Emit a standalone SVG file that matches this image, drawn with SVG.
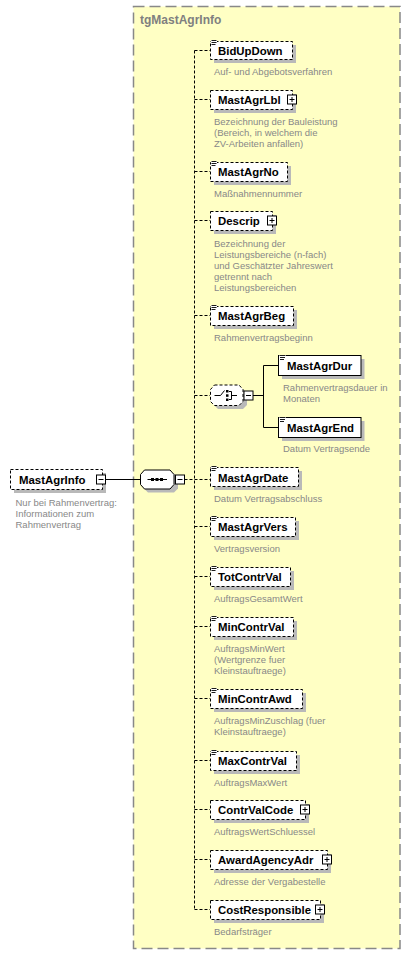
<svg xmlns="http://www.w3.org/2000/svg" width="411" height="956" viewBox="0 0 411 956">
<style>
.sh{fill:#b9b9b9}
.bx{fill:#fff;stroke:#000;stroke-width:1}
.opt{stroke-dasharray:3,2}
.lbl{font-family:"Liberation Sans",Arial,sans-serif;font-weight:bold;font-size:11.4px;fill:#000}
.dsc{font-family:"Liberation Sans",Arial,sans-serif;font-size:9.5px;fill:#888}
.ttl{font-family:"Liberation Sans",Arial,sans-serif;font-weight:bold;font-size:12px;fill:#808080}
.cn{stroke:#000;fill:none;stroke-width:1}
.dc{stroke-dasharray:3,2}
.btn{fill:#fff;stroke:#000;stroke-width:1}
.ic{stroke:#000;stroke-width:1;fill:none}
</style>
<defs>
<g id="plus"><rect class="btn" x="-4.5" y="-4.5" width="9" height="9"/><path class="ic" d="M-2.5,0H2.5M0,-2.5V2.5"/></g>
<g id="minus"><rect class="btn" x="-4.5" y="-4.5" width="9" height="9"/><path class="ic" d="M-2.5,0H2.5"/></g>
<g id="simp"><rect x="0.5" y="0" width="6" height="5.5" fill="#fff"/><path d="M1,0.5H6M1,2.5H6M1,4.5H5" stroke="#000" stroke-width="0.9" fill="none"/></g>
</defs>

<g id="group-tgMastAgrInfo">
<rect x="133.5" y="6.5" width="266.5" height="942" fill="#ffffc4" stroke="#888" stroke-width="1.5" stroke-dasharray="11,5"/>
<text class="ttl" x="140" y="24">tgMastAgrInfo</text>
</g>

<g id="connectors">
<path class="cn" d="M105.5,479.5H140"/>
<path class="cn dc" d="M184.5,479.5H210"/>
<path class="cn dc" d="M194.5,50.5V909.5"/>
<path class="cn dc" d="M194.5,50.5H210M194.5,99.5H210M194.5,171.5H210M194.5,220.5H210M194.5,315.5H210M194.5,395.5H210M194.5,526.5H210M194.5,576.5H210M194.5,626.5H210M194.5,698.5H210M194.5,760.5H210M194.5,809.5H210M194.5,859.5H210M194.5,909.5H210"/>
<path class="cn" d="M253,395.5H263.5M263.5,365.5V427.5M263.5,365.5H278.5M263.5,427.5H278.5"/>
</g>

<g id="MastAgrInfo">
<rect class="sh" x="14" y="473" width="92" height="20"/>
<rect class="bx opt" x="10.5" y="469.5" width="92" height="20"/>
<text class="lbl" x="19" y="484">MastAgrInfo</text>
<use href="#minus" x="101" y="479.5"/>
<text class="dsc" x="15.5" y="506">Nur bei Rahmenvertrag:</text>
<text class="dsc" x="15.5" y="517">Informationen zum</text>
<text class="dsc" x="15.5" y="528">Rahmenvertrag</text>
</g>

<g id="sequence">
<path class="sh" d="M148,473.5H174L178,477.5V488.5L174,492.5H148L144,488.5V477.5Z"/>
<path class="bx" d="M144.5,470H170L174,474.5V484.5L170,489H144.5L140.5,484.5V474.5Z"/>
<path class="ic" d="M147.5,479.5H167"/>
<rect x="151" y="478" width="3" height="3" fill="#000"/>
<rect x="155.5" y="478" width="3" height="3" fill="#000"/>
<rect x="160" y="478" width="3" height="3" fill="#000"/>
<use href="#minus" x="180" y="479.5"/>
</g>

<g id="BidUpDown">
<rect class="sh" x="214" y="45" width="82" height="18"/>
<rect class="bx opt" x="210.5" y="41.5" width="82" height="18"/>
<use href="#simp" x="210.5" y="40"/>
<text class="lbl" x="218" y="55">BidUpDown</text>
<text class="dsc" x="214" y="75">Auf- und Abgebotsverfahren</text>
</g>

<g id="MastAgrLbl">
<rect class="sh" x="214" y="94" width="82" height="19"/>
<rect class="bx opt" x="210.5" y="90.5" width="82" height="19"/>
<text class="lbl" x="218" y="104">MastAgrLbl</text>
<use href="#plus" x="292" y="99.5"/>
<text class="dsc" x="214" y="125">Bezeichnung der Bauleistung</text>
<text class="dsc" x="214" y="136">(Bereich, in welchem die</text>
<text class="dsc" x="214" y="147">ZV-Arbeiten anfallen)</text>
</g>

<g id="MastAgrNo">
<rect class="sh" x="214" y="166" width="77" height="19"/>
<rect class="bx opt" x="210.5" y="162.5" width="77" height="19"/>
<use href="#simp" x="210.5" y="161"/>
<text class="lbl" x="218" y="176">MastAgrNo</text>
<text class="dsc" x="214" y="197">Maßnahmennummer</text>
</g>

<g id="Descrip">
<rect class="sh" x="214" y="215" width="62" height="19"/>
<rect class="bx opt" x="210.5" y="211.5" width="62" height="19"/>
<text class="lbl" x="218" y="225">Descrip</text>
<use href="#plus" x="272" y="220.5"/>
<text class="dsc" x="214" y="247">Bezeichnung der</text>
<text class="dsc" x="214" y="258">Leistungsbereiche (n-fach)</text>
<text class="dsc" x="214" y="269">und Geschätzter Jahreswert</text>
<text class="dsc" x="214" y="280">getrennt nach</text>
<text class="dsc" x="214" y="291">Leistungsbereichen</text>
</g>

<g id="MastAgrBeg">
<rect class="sh" x="214" y="310" width="83" height="19"/>
<rect class="bx opt" x="210.5" y="306.5" width="83" height="19"/>
<use href="#simp" x="210.5" y="305"/>
<text class="lbl" x="218" y="320">MastAgrBeg</text>
<text class="dsc" x="214" y="341">Rahmenvertragsbeginn</text>
</g>

<g id="choice">
<path class="sh" d="M218,389H243L247,393V405L243,409H218L214,405V393Z"/>
<path class="bx opt" d="M214.5,385H239L243,389.5V401.5L239,405.5H214.5L210.5,401.5V389.5Z"/>
<path class="ic" d="M214.5,395.5H220.5L224.5,390.5"/>
<rect x="226" y="390" width="2.5" height="2.5" fill="#000"/>
<rect x="226" y="394.3" width="2.5" height="2.5" fill="#000"/>
<rect x="226" y="398.5" width="2.5" height="2.5" fill="#000"/>
<path class="ic" d="M229,391.5H231.5V399.5H229M231.5,395.5H237"/>
<use href="#minus" x="248.5" y="395.5"/>
</g>

<g id="MastAgrDur">
<rect class="sh" x="282" y="359" width="82.5" height="20"/>
<rect class="bx" x="278.5" y="355.5" width="82.5" height="20"/>
<use href="#simp" x="279" y="355"/>
<text class="lbl" x="287" y="370">MastAgrDur</text>
<text class="dsc" x="283" y="391">Rahmenvertragsdauer in</text>
<text class="dsc" x="283" y="402">Monaten</text>
</g>

<g id="MastAgrEnd">
<rect class="sh" x="282" y="421" width="82.5" height="20"/>
<rect class="bx" x="278.5" y="417.5" width="82.5" height="20"/>
<use href="#simp" x="279" y="417"/>
<text class="lbl" x="287" y="432">MastAgrEnd</text>
<text class="dsc" x="283" y="452">Datum Vertragsende</text>
</g>

<g id="MastAgrDate">
<rect class="sh" x="214" y="471" width="88" height="19"/>
<rect class="bx opt" x="210.5" y="467.5" width="88" height="19"/>
<use href="#simp" x="210.5" y="466"/>
<text class="lbl" x="218" y="481.5">MastAgrDate</text>
<text class="dsc" x="214" y="502">Datum Vertragsabschluss</text>
</g>

<g id="MastAgrVers">
<rect class="sh" x="214" y="521" width="85" height="19"/>
<rect class="bx opt" x="210.5" y="517.5" width="85" height="19"/>
<use href="#simp" x="210.5" y="516"/>
<text class="lbl" x="218" y="531">MastAgrVers</text>
<text class="dsc" x="214" y="552">Vertragsversion</text>
</g>

<g id="TotContrVal">
<rect class="sh" x="214" y="571" width="80" height="19"/>
<rect class="bx opt" x="210.5" y="567.5" width="80" height="19"/>
<use href="#simp" x="210.5" y="566"/>
<text class="lbl" x="218" y="581">TotContrVal</text>
<text class="dsc" x="214" y="602">AuftragsGesamtWert</text>
</g>

<g id="MinContrVal">
<rect class="sh" x="214" y="621" width="83" height="19"/>
<rect class="bx opt" x="210.5" y="617.5" width="83" height="19"/>
<use href="#simp" x="210.5" y="616"/>
<text class="lbl" x="218" y="631">MinContrVal</text>
<text class="dsc" x="214" y="652">AuftragsMinWert</text>
<text class="dsc" x="214" y="663">(Wertgrenze fuer</text>
<text class="dsc" x="214" y="674">Kleinstauftraege)</text>
</g>

<g id="MinContrAwd">
<rect class="sh" x="214" y="693" width="92" height="19"/>
<rect class="bx opt" x="210.5" y="689.5" width="92" height="19"/>
<use href="#simp" x="210.5" y="688"/>
<text class="lbl" x="218" y="703">MinContrAwd</text>
<text class="dsc" x="214" y="724">AuftragsMinZuschlag (fuer</text>
<text class="dsc" x="214" y="735">Kleinstauftraege)</text>
</g>

<g id="MaxContrVal">
<rect class="sh" x="214" y="755" width="86" height="19"/>
<rect class="bx opt" x="210.5" y="751.5" width="86" height="19"/>
<use href="#simp" x="210.5" y="750"/>
<text class="lbl" x="218" y="765">MaxContrVal</text>
<text class="dsc" x="214" y="786">AuftragsMaxWert</text>
</g>

<g id="ContrValCode">
<rect class="sh" x="214" y="804" width="95" height="19"/>
<rect class="bx opt" x="210.5" y="800.5" width="95" height="19"/>
<text class="lbl" x="218" y="814">ContrValCode</text>
<use href="#plus" x="305" y="809.5"/>
<text class="dsc" x="214" y="835">AuftragsWertSchluessel</text>
</g>

<g id="AwardAgencyAdr">
<rect class="sh" x="214" y="854" width="117" height="19"/>
<rect class="bx opt" x="210.5" y="850.5" width="117" height="19"/>
<text class="lbl" x="218" y="864">AwardAgencyAdr</text>
<use href="#plus" x="327" y="859.5"/>
<text class="dsc" x="214" y="885">Adresse der Vergabestelle</text>
</g>

<g id="CostResponsible">
<rect class="sh" x="214" y="904" width="110" height="19"/>
<rect class="bx opt" x="210.5" y="900.5" width="110" height="19"/>
<text class="lbl" x="218" y="914">CostResponsible</text>
<use href="#plus" x="320" y="909.5"/>
<text class="dsc" x="214" y="935">Bedarfsträger</text>
</g>
</svg>
